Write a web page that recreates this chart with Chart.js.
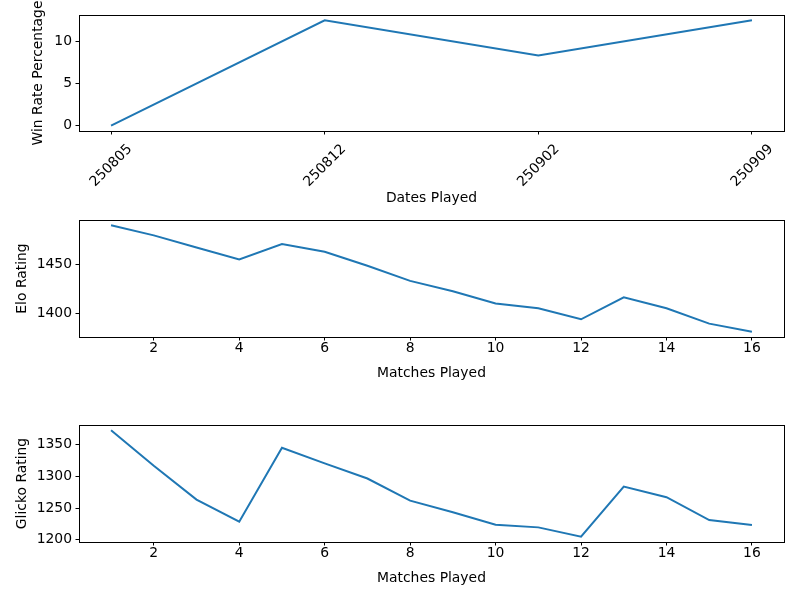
<!DOCTYPE html>
<html>
<head>
<meta charset="utf-8">
<script src="https://cdn.jsdelivr.net/npm/chart.js@4"></script>
<style>
  html, body { margin: 0; padding: 0; background: #fff; }
  #page { position: relative; width: 800px; height: 600px; }
  .panel { position: absolute; left: 0; width: 800px; }
</style>
</head>
<body>
<div id="page">
  <div class="panel" style="top:0px;height:215px"><canvas id="winChart"></canvas></div>
  <div class="panel" style="top:200px;height:185px"><canvas id="eloChart"></canvas></div>
  <div class="panel" style="top:405px;height:185px"><canvas id="glickoChart"></canvas></div>
</div>
<script>
// Chart data
const dates = ['250805', '250812', '250902', '250909'];
const winRate = [0, 12.5, 8.33, 12.5];
const winTicks = [0, 5, 10];

const matches = [1, 2, 3, 4, 5, 6, 7, 8, 9, 10, 11, 12, 13, 14, 15, 16];
const eloRating = [1489.8, 1479.6, 1467.3, 1455.1, 1470.7, 1462.9, 1448.6, 1433.3,
                   1422.8, 1410.2, 1405.4, 1394.2, 1416.6, 1405.4, 1389.8, 1381.6];
const glickoRating = [1372.8, 1316.7, 1263.4, 1228.5, 1345.2, 1320.5, 1296.7, 1261.8,
                      1243.3, 1223.8, 1219.5, 1204.8, 1284.0, 1267.1, 1231.1, 1223.2];
const eloTicks = [1400, 1450];
const glickoTicks = [1200, 1250, 1300, 1350];
const matchTicks = [2, 4, 6, 8, 10, 12, 14, 16];

const LINE_COLOR = '#1f77b4';
const FONT = { family: 'DejaVu Sans', size: 13.9 };

Chart.defaults.color = '#000';
Chart.defaults.font.family = FONT.family;
Chart.defaults.font.size = FONT.size;

// matplotlib style frame on all four sides
const framePlugin = {
    id: 'frame',
    afterDraw(chart) {
        const a = chart.chartArea;
        const ctx = chart.ctx;
        ctx.save();
        ctx.strokeStyle = '#000';
        ctx.lineWidth = 1;
        ctx.strokeRect(Math.round(a.left) + 0.5, Math.round(a.top) + 0.5,
                       Math.round(a.right - a.left), Math.round(a.bottom - a.top));
        ctx.restore();
    }
};

// 5% padding like matplotlib autoscale
function paddedRange(values) {
    const lo = Math.min(...values), hi = Math.max(...values);
    const m = (hi - lo) * 0.05;
    return { min: lo - m, max: hi + m };
}

function makeChart(id, cfg) {
    const yr = paddedRange(cfg.y);
    const xr = paddedRange(cfg.x);
    return new Chart(document.getElementById(id), {
        type: 'line',
        data: {
            datasets: [{
                data: cfg.x.map((x, i) => ({ x: x, y: cfg.y[i] })),
                borderColor: LINE_COLOR,
                borderWidth: 2,
                pointRadius: 0,
                tension: 0,
                fill: false
            }]
        },
        options: {
            responsive: true,
            maintainAspectRatio: false,
            animation: false,
            layout: { padding: { top: cfg.top, right: 16, left: 0, bottom: 0 } },
            plugins: { legend: { display: false }, tooltip: { enabled: false } },
            scales: {
                x: {
                    type: 'linear',
                    min: xr.min,
                    max: xr.max,
                    afterBuildTicks: (axis) => { axis.ticks = cfg.xTicks.map(v => ({ value: v })); },
                    afterFit: (axis) => { axis.height = cfg.xHeight; },
                    grid: { drawOnChartArea: false, drawTicks: true, tickLength: 3.5, color: '#000' },
                    border: { display: false },
                    ticks: {
                        padding: cfg.xPad,
                        minRotation: cfg.rotate,
                        maxRotation: cfg.rotate,
                        labelOffset: cfg.labelOffset,
                        callback: cfg.xLabel
                    },
                    title: { display: true, text: cfg.xTitle, padding: { top: 4, bottom: cfg.xTitlePad } }
                },
                y: {
                    min: yr.min,
                    max: yr.max,
                    afterBuildTicks: (axis) => { axis.ticks = cfg.yTicks.map(v => ({ value: v })); },
                    afterFit: (axis) => { axis.width = 79; },
                    grid: { drawOnChartArea: false, drawTicks: true, tickLength: 3.5, color: '#000' },
                    border: { display: false },
                    ticks: { padding: 3.5, callback: (v) => String(v) },
                    title: { display: true, text: cfg.yTitle, padding: { top: cfg.yTitlePad, bottom: 0 } }
                }
            }
        },
        plugins: [framePlugin]
    });
}

makeChart('winChart', {
    x: dates.map((d, i) => i),
    y: winRate,
    xTicks: [0, 1, 2, 3],
    yTicks: winTicks,
    xLabel: (v) => dates[v],
    rotate: 45,
    labelOffset: 19,
    xPad: 6.5,
    top: 15,
    xHeight: 84,
    xTitle: 'Dates Played',
    xTitlePad: 8.7,
    yTitle: 'Win Rate Percentage',
    yTitlePad: 30
});

makeChart('eloChart', {
    x: matches,
    y: eloRating,
    xTicks: matchTicks,
    yTicks: eloTicks,
    xLabel: (v) => v,
    rotate: 0,
    labelOffset: 0,
    xPad: 0,
    top: 20,
    xHeight: 48,
    xTitle: 'Matches Played',
    xTitlePad: 3.7,
    yTitle: 'Elo Rating',
    yTitlePad: 13.7
});

makeChart('glickoChart', {
    x: matches,
    y: glickoRating,
    xTicks: matchTicks,
    yTicks: glickoTicks,
    xLabel: (v) => v,
    rotate: 0,
    labelOffset: 0,
    xPad: 0,
    top: 20,
    xHeight: 48,
    xTitle: 'Matches Played',
    xTitlePad: 3.7,
    yTitle: 'Glicko Rating',
    yTitlePad: 13.7
});
</script>
</body>
</html>
